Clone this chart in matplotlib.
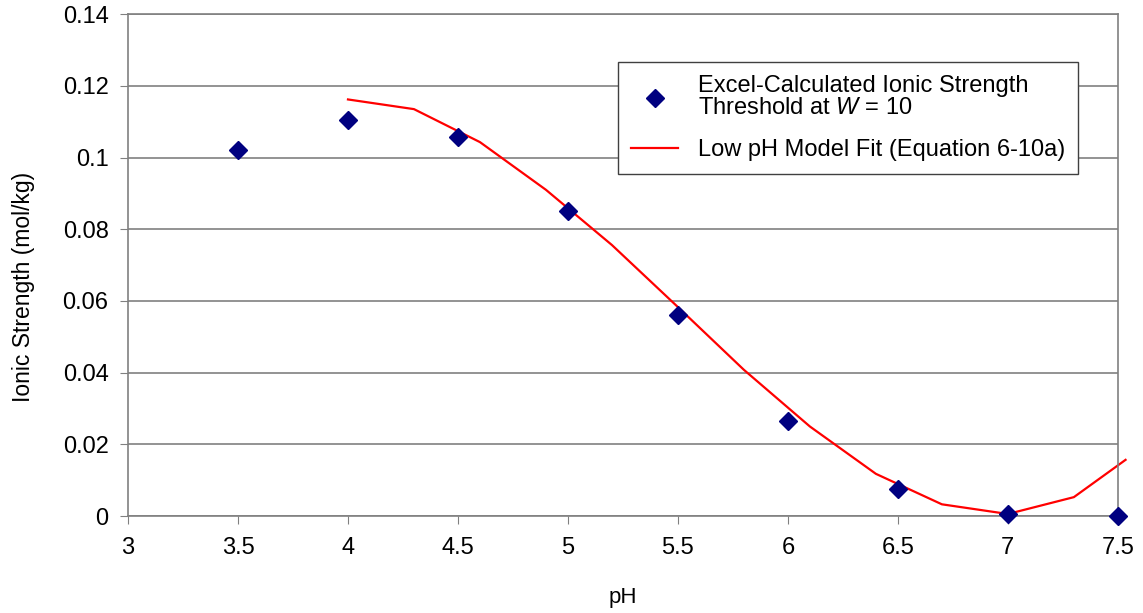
import numpy as np
import matplotlib.pyplot as plt
from matplotlib.ticker import FuncFormatter, MultipleLocator

plt.rcParams['font.family'] = ['Liberation Sans', 'DejaVu Sans']
plt.rcParams['mathtext.fontset'] = 'custom'
plt.rcParams['mathtext.it'] = 'Liberation Sans:italic'
plt.rcParams['mathtext.rm'] = 'Liberation Sans'

# Excel-berechnete Werte
ph_pts = [3.5, 4.0, 4.5, 5.0, 5.5, 6.0, 6.5, 7.0, 7.5]
ionic_pts = [0.1022, 0.1106, 0.1058, 0.0851, 0.0560, 0.0264, 0.0075, 0.0005, 0.0]

# Modellkurve (Gleichung 6-10a)
ph_fit = [4.0, 4.3, 4.6, 4.9, 5.2, 5.5, 5.8, 6.1, 6.4, 6.7, 7.0, 7.3, 7.535]
ionic_fit = [0.1162, 0.1135, 0.1043, 0.0910, 0.0756, 0.0583, 0.0408, 0.0250, 0.0118,
             0.0033, 0.0006, 0.0053, 0.0157]

fig = plt.figure(figsize=(11.43, 6.13), dpi=100)
ax = fig.add_axes([0.112, 0.158, 0.866, 0.819])

ax.plot(ph_pts, ionic_pts, linestyle='none', marker='D', markersize=9,
        color='#000080', label='Excel-Calculated Ionic Strength\nThreshold at $\\mathit{W}$ = 10',
        zorder=3, clip_on=False)
ax.plot(ph_fit, ionic_fit, color='red', linewidth=1.6,
        label='Low pH Model Fit (Equation 6-10a)', zorder=2, clip_on=False)

ax.set_xlim(3, 7.5)
ax.set_ylim(0, 0.14)
ax.xaxis.set_major_locator(MultipleLocator(0.5))
ax.yaxis.set_major_locator(MultipleLocator(0.02))
ax.yaxis.set_major_formatter(FuncFormatter(lambda v, p: '%g' % round(v, 4)))
ax.xaxis.set_major_formatter(FuncFormatter(lambda v, p: '%g' % v))
ax.grid(axis='y', color='#808080', linewidth=1.2)
ax.set_axisbelow(True)
for s in ax.spines.values():
    s.set_color('#808080')
    s.set_linewidth(1.2)
ax.tick_params(direction='out', length=6, color='#808080', labelsize=17)
ax.tick_params(axis='x', pad=9)
ax.tick_params(axis='y', pad=8)

ax.set_xlabel('pH', fontsize=16, labelpad=20)
ax.set_ylabel('Ionic Strength (mol/kg)', fontsize=16.5)
ax.yaxis.set_label_coords(-0.094, 0.456)

leg = ax.legend(loc='upper left', bbox_to_anchor=(0.495, 0.904), fontsize=17,
                frameon=True, fancybox=False, edgecolor='#404040', framealpha=1,
                handlelength=2.0, borderpad=0.55, labelspacing=0.85, borderaxespad=0,
                handletextpad=0.85)
for t in leg.get_texts():
    t.set_linespacing(1.0)
leg.get_frame().set_linewidth(1.0)

fig.savefig('out.png', dpi=100)
